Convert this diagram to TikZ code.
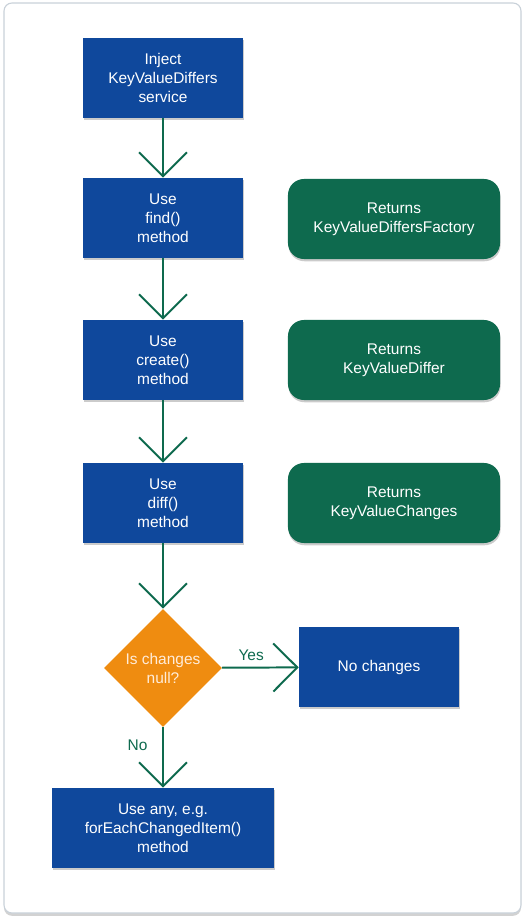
\documentclass[tikz,border=0pt]{standalone}
\usepackage{fontspec}
\setmainfont{Liberation Sans}
\usetikzlibrary{arrows.meta}
\usetikzlibrary{shapes.geometric}
\usetikzlibrary{shadows}
\definecolor{boxblue}{HTML}{0F489C}
\definecolor{retgreen}{HTML}{0E6A4E}
\definecolor{decorange}{HTML}{EF8C10}
\definecolor{framegray}{HTML}{C9D1D9}

\tikzset{
  stepbox/.style={rectangle, fill=boxblue, text=white, minimum width=4cm,
    minimum height=2cm, align=center, inner sep=0pt,
    font=\fontsize{11}{13.5}\selectfont,
    drop shadow={shadow xshift=0.4pt, shadow yshift=-1.6pt, fill=black!40, opacity=0.5}},
  retbox/.style={stepbox, fill=retgreen, rounded corners=0.4cm, minimum width=5.3cm},
  decision/.style={diamond, fill=decorange, text=orange!15, aspect=1,
    minimum width=2.95cm, minimum height=2.95cm, inner sep=0pt, align=center,
    font=\fontsize{11}{13.5}\selectfont},
  flow/.style={retgreen, line width=1.4pt,
    -{Straight Barb[length=6mm, width=12mm]}},
  answer/.style={text=retgreen, font=\fontsize{11}{13}\selectfont}
}

\begin{document}
\begin{tikzpicture}[x=0.025cm, y=-0.025cm]
\useasboundingbox (0,0) rectangle (528,922);

% outer card
\draw[framegray, fill=white, rounded corners=0.2cm, line width=0.8pt,
  drop shadow={shadow xshift=0pt, shadow yshift=-2pt, fill=black!35, opacity=0.5}]
  (4,3) rectangle (521,913);

% main column
\node[stepbox] (inject) at (163,78) {Inject\\KeyValueDiffers\\service};
\node[stepbox] (find) at (163,218) {Use\\find()\\method};
\node[stepbox] (create) at (163,360) {Use\\create()\\method};
\node[stepbox] (diff) at (163,503) {Use\\diff()\\method};
\node[decision] (isnull) at (163,668) {Is changes\\null?};
\node[stepbox] (nochanges) at (379,667) {No changes};
\node[stepbox, minimum width=5.55cm] (useany) at (163,828) {Use any, e.g.\\forEachChangedItem()\\method};

% what each step returns
\node[retbox] (retfactory) at (394,219) {Returns\\KeyValueDiffersFactory};
\node[retbox] (retdiffer) at (394,360) {Returns\\KeyValueDiffer};
\node[retbox] (retchanges) at (394,503) {Returns\\KeyValueChanges};

\draw[flow] (inject) -- (find);
\draw[flow] (find) -- (create);
\draw[flow] (create) -- (diff);
\draw[flow] (diff) -- (isnull);
\draw[flow] (isnull) -- node[answer, pos=0.38, above=1pt] {Yes} (nochanges);
\draw[flow] (isnull) -- node[answer, pos=0.3, left=7pt] {No} (useany);

\end{tikzpicture}
\end{document}
